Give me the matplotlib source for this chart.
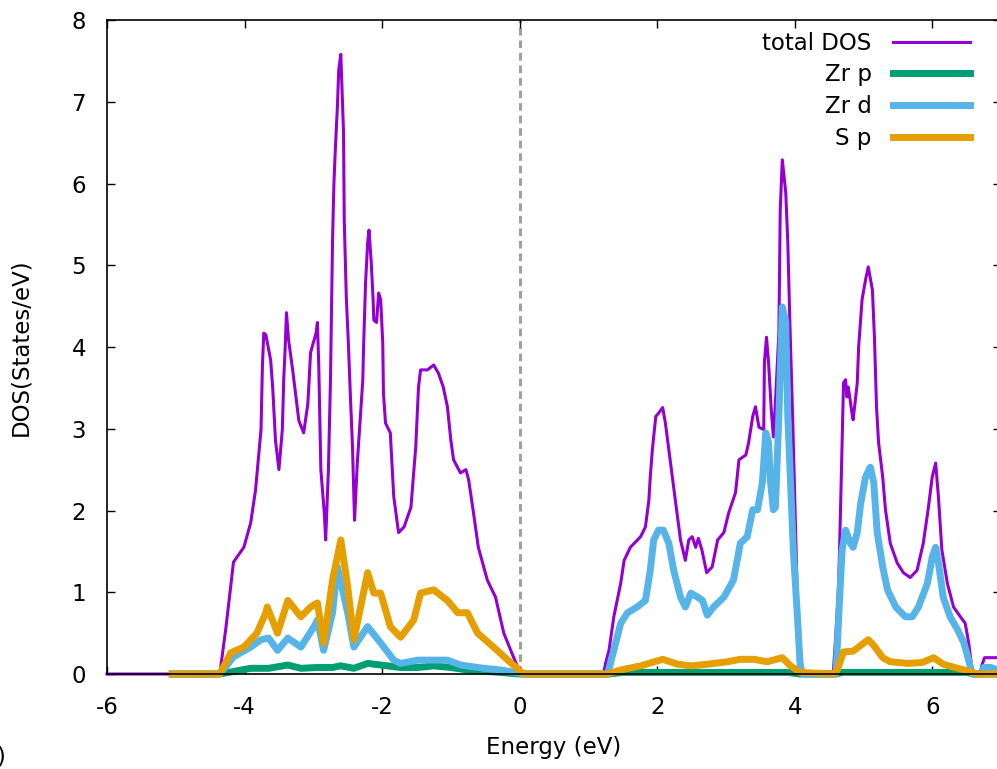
import numpy as np
import matplotlib.pyplot as plt

plt.rcParams['font.family'] = ['DejaVu Sans']
plt.rcParams['axes.unicode_minus'] = False

# total DOS
e_tot = [-6.0, -4.36, -4.27, -4.16, -4.01, -3.91, -3.84, -3.76, -3.74, -3.72, -3.69, -3.62, -3.59, -3.55,
         -3.50, -3.45, -3.43, -3.41, -3.39, -3.36, -3.30, -3.26, -3.21, -3.14, -3.08, -3.06, -3.04,
         -2.96, -2.94, -2.92, -2.89, -2.84, -2.82, -2.78, -2.75, -2.72, -2.70, -2.68, -2.65, -2.63,
         -2.60, -2.56, -2.55, -2.52, -2.49, -2.46, -2.43, -2.40, -2.36, -2.28, -2.27, -2.24, -2.21,
         -2.19, -2.16, -2.13, -2.12, -2.08, -2.05, -2.02, -1.99, -1.98, -1.95, -1.88, -1.83, -1.76,
         -1.68, -1.58, -1.51, -1.47, -1.44, -1.34, -1.25, -1.18, -1.11, -1.05, -1.00, -0.96, -0.86,
         -0.78, -0.74, -0.67, -0.60, -0.47, -0.35, -0.23, -0.09, -0.01, 0.05,
         1.22, 1.25, 1.30, 1.37, 1.47, 1.52, 1.61, 1.76, 1.83, 1.88, 1.90, 1.93, 1.98, 2.02, 2.08,
         2.12, 2.17, 2.22, 2.27, 2.34, 2.41, 2.46, 2.51, 2.56, 2.60, 2.65, 2.72, 2.80, 2.88, 2.97,
         3.04, 3.14, 3.19, 3.29, 3.33, 3.39, 3.43, 3.48, 3.55, 3.56, 3.59, 3.62, 3.66, 3.69, 3.72,
         3.77, 3.79, 3.82, 3.87, 3.90, 3.93, 3.97, 4.00, 4.04, 4.08, 4.12,
         4.56, 4.60, 4.64, 4.67, 4.71, 4.74, 4.76, 4.78, 4.84, 4.85, 4.91, 4.93, 4.98, 5.03, 5.07,
         5.13, 5.16, 5.19, 5.22, 5.28, 5.32, 5.39, 5.49, 5.58, 5.68, 5.78, 5.87, 5.94, 6.00, 6.05,
         6.09, 6.14, 6.22, 6.31, 6.41, 6.48, 6.53, 6.58, 6.60, 6.70, 6.72, 6.76, 6.85, 7.0]
dos_tot = [0, 0, 0.57, 1.37, 1.55, 1.85, 2.25, 2.99, 3.76, 4.17, 4.15, 3.84, 3.5, 2.86,
           2.5, 2.99, 3.6, 3.97, 4.42, 4.09, 3.72, 3.44, 3.1, 2.95, 3.3, 3.6, 3.93,
           4.17, 4.3, 3.76, 2.5, 1.97, 1.64, 2.5, 3.6, 5.31, 6.0, 6.41, 6.93, 7.39,
           7.58, 6.62, 5.56, 4.61, 4.05, 3.39, 2.78, 1.88, 2.58, 3.6, 3.97, 4.78, 5.27,
           5.43, 5.07, 4.58, 4.33, 4.3, 4.66, 4.58, 4.05, 3.44, 3.07, 2.95, 2.17, 1.73,
           1.8, 2.04, 2.78, 3.51, 3.72, 3.72, 3.78, 3.68, 3.51, 3.27, 2.86, 2.62, 2.46,
           2.5, 2.37, 1.97, 1.55, 1.15, 0.94, 0.5, 0.21, 0.05, 0,
           0, 0.13, 0.29, 0.7, 1.11, 1.39, 1.55, 1.68, 1.8, 2.13, 2.41, 2.74, 3.15, 3.19, 3.26,
           3.07, 2.74, 2.41, 2.09, 1.64, 1.39, 1.64, 1.68, 1.55, 1.66, 1.52, 1.24, 1.31, 1.64, 1.73,
           1.97, 2.22, 2.62, 2.68, 2.83, 3.15, 3.27, 3.02, 2.99, 3.81, 4.12, 3.81, 3.23, 2.9, 3.32,
           4.17, 5.68, 6.29, 5.89, 5.28, 4.3, 3.15, 2.2, 0.9, 0.3, 0,
           0, 0.5, 1.11, 2.13, 3.56, 3.6, 3.39, 3.51, 3.15, 3.11, 3.56, 4.0, 4.58, 4.82, 4.98,
           4.7, 4.12, 3.27, 2.83, 2.41, 2.01, 1.6, 1.36, 1.24, 1.18, 1.27, 1.6, 2.01, 2.41, 2.58,
           2.17, 1.52, 1.11, 0.82, 0.7, 0.62, 0.38, 0.05, 0, 0, 0.1, 0.2, 0.2, 0.2]

# Zr p
e_zrp = [-5.05, -4.36, -3.91, -3.65, -3.37, -3.18, -2.94, -2.72, -2.60, -2.41, -2.21, -2.02, -1.73,
         -1.48, -1.25, -1.00, -0.76, -0.28, 0.0, 1.30, 1.50, 3.90, 4.08, 4.60, 4.70, 6.50, 6.60, 6.95]
zrp = [0, 0, 0.07, 0.07, 0.11, 0.07, 0.08, 0.08, 0.1, 0.07, 0.13, 0.11, 0.08,
       0.08, 0.1, 0.08, 0.05, 0.02, 0, 0, 0.02, 0.02, 0, 0, 0.02, 0.02, 0, 0]

# Zr d
e_zrd = [-5.05, -4.36, -4.16, -3.91, -3.76, -3.65, -3.52, -3.37, -3.18, -2.99, -2.94, -2.85, -2.72,
         -2.65, -2.50, -2.41, -2.21, -2.02, -1.83, -1.73, -1.48, -1.25, -1.05, -0.86, -0.52, -0.28,
         0.0, 0.05, 1.28, 1.37, 1.47, 1.57, 1.71, 1.83, 1.90, 1.95, 2.02, 2.09, 2.17, 2.24, 2.34,
         2.41, 2.49, 2.59, 2.66, 2.73, 2.82, 2.97, 3.11, 3.21, 3.31, 3.39, 3.46, 3.53, 3.58, 3.62,
         3.65, 3.69, 3.72, 3.77, 3.82, 3.87, 3.90, 3.94, 3.98, 4.04, 4.08, 4.12, 4.60, 4.64, 4.69,
         4.74, 4.81, 4.85, 4.91, 4.96, 5.03, 5.10, 5.15, 5.20, 5.28, 5.35, 5.47, 5.61, 5.71, 5.80,
         5.93, 6.00, 6.05, 6.09, 6.16, 6.26, 6.37, 6.46, 6.53, 6.58, 6.70, 6.75, 6.85, 6.95]
zrd = [0, 0, 0.21, 0.33, 0.42, 0.44, 0.29, 0.44, 0.33, 0.58, 0.66, 0.29, 0.75,
       1.31, 0.75, 0.33, 0.58, 0.38, 0.17, 0.13, 0.17, 0.17, 0.17, 0.11, 0.07, 0.05,
       0.01, 0, 0, 0.29, 0.62, 0.75, 0.82, 0.9, 1.27, 1.64, 1.76, 1.76, 1.6, 1.27, 0.94,
       0.82, 0.99, 0.94, 0.9, 0.72, 0.82, 0.94, 1.15, 1.6, 1.68, 2.01, 2.01, 2.34, 2.95, 2.83,
       2.34, 2.01, 2.04, 3.15, 4.49, 4.3, 3.15, 2.34, 1.52, 0.7, 0.1, 0, 0, 0.7, 1.52,
       1.76, 1.6, 1.55, 1.73, 2.09, 2.41, 2.53, 2.34, 1.73, 1.31, 1.03, 0.82, 0.7, 0.7, 0.82,
       1.11, 1.43, 1.55, 1.36, 0.94, 0.7, 0.54, 0.38, 0.17, 0, 0, 0.08, 0.08, 0.05]

# S p
e_sp = [-5.05, -4.36, -4.20, -4.01, -3.82, -3.69, -3.67, -3.52, -3.37, -3.18, -3.04, -2.94, -2.85,
        -2.72, -2.60, -2.50, -2.41, -2.21, -2.12, -2.02, -1.88, -1.73, -1.54, -1.44, -1.25, -1.05,
        -0.90, -0.76, -0.61, -0.38, -0.17, -0.01, 0.05, 1.28, 1.47, 1.76, 2.08, 2.30, 2.50, 2.73,
        3.02, 3.21, 3.41, 3.60, 3.82, 3.94, 4.08, 4.56, 4.62, 4.71, 4.85, 5.07, 5.15, 5.28, 5.39,
        5.64, 5.85, 6.02, 6.16, 6.37, 6.55, 6.65, 6.95]
sp = [0, 0, 0.26, 0.33, 0.5, 0.75, 0.82, 0.5, 0.9, 0.7, 0.82, 0.87, 0.38,
      1.15, 1.64, 1.07, 0.42, 1.24, 0.99, 0.99, 0.58, 0.45, 0.66, 0.99, 1.03, 0.9,
      0.75, 0.75, 0.5, 0.33, 0.17, 0.05, 0, 0, 0.05, 0.1, 0.18, 0.12, 0.1, 0.12,
      0.15, 0.18, 0.18, 0.15, 0.2, 0.1, 0.02, 0, 0.05, 0.27, 0.28, 0.42, 0.35, 0.2, 0.15,
      0.13, 0.14, 0.2, 0.12, 0.07, 0.03, 0, 0]

fs = 16.5

fig = plt.figure(figsize=(9.97, 7.69), dpi=100)
ax = fig.add_axes([0.1073, 0.1235, 0.8967, 0.8505])

ax.axvline(0, color='#a0a0a0', lw=2.2, ls=(0, (2.5, 1.6)), zorder=1)
ax.plot(e_tot, dos_tot, color='#9400d3', lw=2.2, label='total DOS', clip_on=False, zorder=2)
ax.plot(e_zrp, zrp, color='#009e73', lw=5, label='Zr p', clip_on=False, zorder=3)
ax.plot(e_zrd, zrd, color='#56b4e9', lw=5, label='Zr d', clip_on=False, zorder=3)
ax.plot(e_sp, sp, color='#e69f00', lw=5, label='S p', clip_on=False, zorder=3)

ax.set_xlim(-6, 7)
ax.set_ylim(0, 8)
ax.set_xticks(np.arange(-6, 7, 2))
ax.set_yticks(np.arange(0, 9, 1))
ax.tick_params(direction='in', length=6, width=1, top=True, right=True, labelsize=fs, colors='black')
ax.tick_params(axis='y', pad=15)
ax.tick_params(axis='x', pad=16)
for s in ax.spines.values():
    s.set_linewidth(1.2)
    s.set_zorder(4)

ax.set_xlabel('Energy (eV)', fontsize=fs, labelpad=12)
ax.set_ylabel('DOS(States/eV)', fontsize=fs, labelpad=28)

ax.legend(loc='upper right', bbox_to_anchor=(0.965, 0.982), frameon=False, markerfirst=False,
          fontsize=fs, handlelength=3.36, handletextpad=0.92, labelspacing=0.38,
          borderpad=0, borderaxespad=0)

fig.text(0.006, 0.001, '(a)', ha='right', va='bottom', fontsize=fs)

fig.savefig('out.png', dpi=100)
